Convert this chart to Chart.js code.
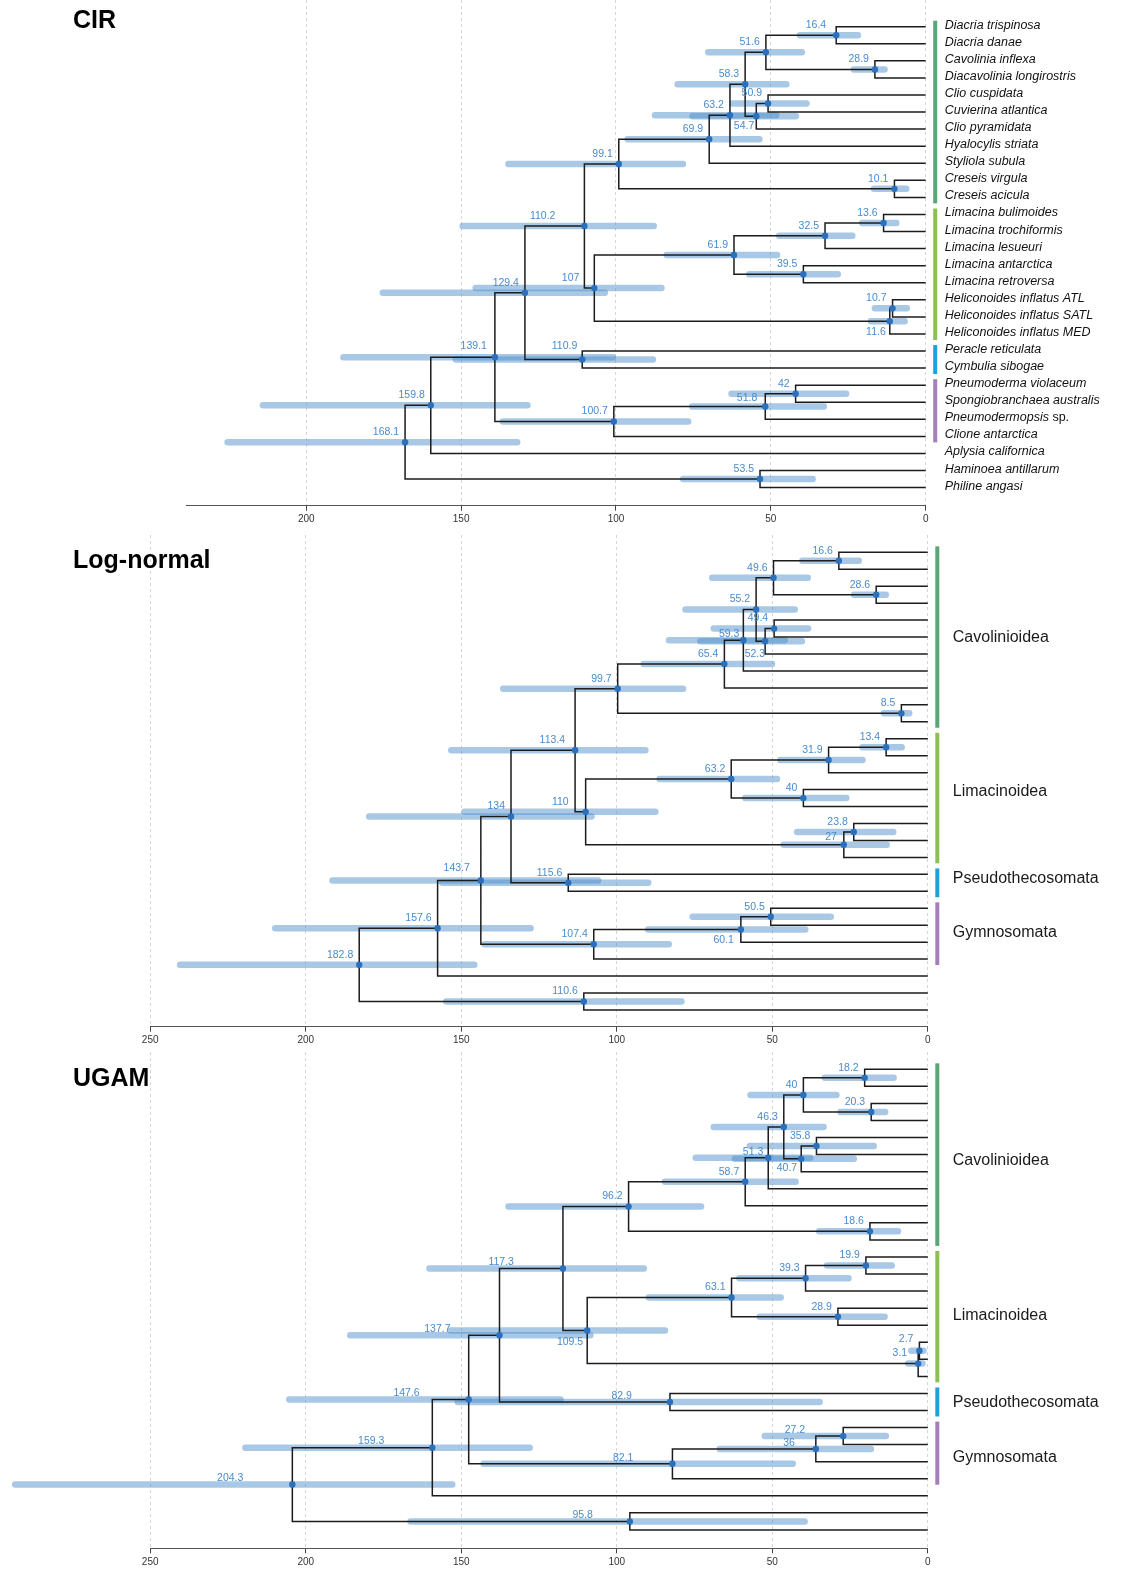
<!DOCTYPE html>
<html>
<head>
<meta charset="utf-8">
<script src="https://cdn.jsdelivr.net/npm/chart.js@4.4.1/dist/chart.umd.min.js"></script>
<style>
  html, body { margin: 0; padding: 0; background: #fff; }
  body { width: 1123px; height: 1569px; position: relative; overflow: hidden; }
  canvas { position: absolute; left: 0; display: block; }
</style>
</head>
<body>
<canvas id="cir" width="1123" height="530" style="top:0px"></canvas>
<canvas id="lognormal" width="1123" height="521" style="top:530px"></canvas>
<canvas id="ugam" width="1123" height="518" style="top:1051px"></canvas>
<script>
// tips, top to bottom (row index = position in this list)
const tips = [
  'Diacria trispinosa', 'Diacria danae', 'Cavolinia inflexa', 'Diacavolinia longirostris',
  'Clio cuspidata', 'Cuvierina atlantica', 'Clio pyramidata', 'Hyalocylis striata',
  'Styliola subula', 'Creseis virgula', 'Creseis acicula', 'Limacina bulimoides',
  'Limacina trochiformis', 'Limacina lesueuri', 'Limacina antarctica', 'Limacina retroversa',
  'Heliconoides inflatus ATL', 'Heliconoides inflatus SATL', 'Heliconoides inflatus MED',
  'Peracle reticulata', 'Cymbulia sibogae', 'Pneumoderma violaceum', 'Spongiobranchaea australis',
  'Pneumodermopsis sp.', 'Clione antarctica', 'Aplysia californica', 'Haminoea antillarum',
  'Philine angasi'
];

// clades shown as coloured bars at the right
const cladeNames = ['Cavolinioidea', 'Limacinoidea', 'Pseudothecosomata', 'Gymnosomata'];
const cladeFirst = [0, 11, 19, 21];
const cladeLast = [10, 18, 20, 24];
const cladeColors = ['#5ba676', '#8cc152', '#1da1dc', '#a57fbc'];

// topology: internal nodes, children are tip rows (numbers) or other nodes
const nodeIds = ['A', 'B', 'C', 'D', 'E', 'F', 'G', 'H', 'I', 'J', 'K', 'L', 'M', 'N',
  'O', 'P', 'Q', 'R', 'S', 'T', 'U', 'V', 'W', 'X', 'Y', 'Z', 'root'];
const childOne = [0, 2, 'A', 4, 'D', 'C', 'F', 'G', 9, 'H', 11, 'K', 14, 'L',
  16, 'O', 'N', 'J', 19, 'R', 21, 'U', 'V', 'T', 'X', 26, 'Y'];
const childTwo = [1, 3, 'B', 5, 6, 'E', 7, 8, 10, 'I', 12, 13, 15, 'M',
  17, 18, 'P', 'Q', 20, 'S', 22, 23, 24, 'W', 25, 27, 'Z'];

// node ages (Ma) and HPD interval, in nodeIds order
const cirAge = [28.9, 16.4, 51.6, 50.9, 54.7, 58.3, 63.2, 69.9, 10.1, 99.1, 13.6, 32.5, 39.5, 61.9,
  10.7, 11.6, 107, 110.2, 110.9, 129.4, 42, 51.8, 100.7, 139.1, 159.8, 53.5, 168.1];
const cirLow = [21.9, 13.3, 40.0, 38.5, 41.9, 45.0, 48.3, 53.7, 6.3, 78.4, 9.5, 23.7, 28.4, 48.0,
  6.1, 6.8, 85.3, 87.8, 88.1, 103.6, 25.7, 32.9, 76.7, 101, 128.6, 36.5, 131.9];
const cirHigh = [40.6, 23.2, 70.2, 62.4, 75.3, 80.1, 87.4, 96.2, 16.7, 134.7, 20.5, 47.3, 57.0, 83.6,
  16.4, 17.7, 145.3, 149.5, 151.7, 175.3, 62.7, 75.4, 136.5, 188, 214, 78.3, 225.4];

const lnAge = [28.6, 16.6, 49.6, 49.4, 52.3, 55.2, 59.3, 65.4, 8.5, 99.7, 13.4, 31.9, 40, 63.2,
  23.8, 27, 110, 113.4, 115.6, 134, 50.5, 60.1, 107.4, 143.7, 157.6, 110.6, 182.8];
const lnLow = [22.2, 13.5, 38.6, 38.5, 40.5, 42.8, 46.0, 50.1, 6.0, 78.7, 8.4, 21.0, 26.2, 48.5,
  11.1, 13.2, 87.6, 90.8, 89.9, 108.1, 31.2, 39.4, 83.3, 106, 127.7, 79.2, 145.8];
const lnHigh = [40.3, 23.7, 69.3, 68.8, 73.1, 77.9, 83.2, 91.3, 14.1, 136.5, 21.0, 47.4, 58.7, 86.2,
  42.0, 46.3, 148.9, 153.2, 156.1, 179.6, 75.6, 89.9, 142.5, 191.4, 209.8, 154.8, 240.4];

const ugamAge = [20.3, 18.2, 40, 35.8, 40.7, 46.3, 51.3, 58.7, 18.6, 96.2, 19.9, 39.3, 28.9, 63.1,
  2.7, 3.1, 109.5, 117.3, 82.9, 137.7, 27.2, 36, 82.1, 147.6, 159.3, 95.8, 204.3];
const ugamLow = [11.0, 13.7, 29.4, 17.4, 23.8, 33.5, 37.8, 42.5, 9.6, 72.9, 11.6, 25.5, 13.9, 47.3,
  1.4, 1.7, 84.5, 91.3, 34.8, 108.5, 13.5, 18.3, 43.4, 118.1, 128.0, 39.6, 152.9];
const ugamHigh = [33.1, 28.0, 57.0, 57.2, 62.0, 68.8, 74.6, 84.5, 34.9, 134.8, 32.4, 60.6, 54.0, 89.7,
  5.3, 6.3, 153.4, 160.2, 151.1, 185.7, 52.4, 66.9, 142.8, 205.3, 219.4, 166.3, 293.4];

// in the source figure the printed values of nodes A and B are exchanged
const labelFrom = { A: 'B', B: 'A' };

const tickValues = [250, 200, 150, 100, 50, 0];

const FONT = "'Liberation Sans', Arial, Helvetica, sans-serif";
Chart.defaults.font.family = FONT;

const HPD_COLOR = 'rgba(74,140,200,0.48)';
const DOT_COLOR = '#2a70bd';
const LABEL_COLOR = '#4a8bcb';

function buildPanel(cfg) {
  const age = cfg.age;
  const idx = {};
  nodeIds.forEach((id, i) => { idx[id] = i; });
  const yOf = {};
  const yAt = k => typeof k === 'number' ? k : yOf[k];
  const ageAt = k => typeof k === 'number' ? 0 : age[idx[k]];
  nodeIds.forEach((id, i) => { yOf[id] = (yAt(childOne[i]) + yAt(childTwo[i])) / 2; });

  // tree branches as step brackets
  const tree = [];
  nodeIds.forEach((id, i) => {
    const a = childOne[i], b = childTwo[i];
    tree.push({ x: ageAt(a), y: yAt(a) }, { x: age[i], y: yAt(a) },
      { x: age[i], y: yAt(b) }, { x: ageAt(b), y: yAt(b) }, { x: null, y: null });
  });

  const datasets = [];
  datasets.push({
    data: nodeIds.map((id, i) => ({ x: age[i], y: yOf[id] })),
    pointRadius: 3.2, pointBackgroundColor: DOT_COLOR, pointBorderWidth: 0,
    showLine: false, clip: false, order: 0
  });
  datasets.push({
    data: tree, showLine: true, borderColor: '#1c1c1c', borderWidth: 1.5,
    pointRadius: 0, spanGaps: false, clip: false, order: 1
  });
  nodeIds.forEach((id, i) => {
    datasets.push({
      data: [{ x: cfg.low[i], y: yOf[id] }, { x: cfg.high[i], y: yOf[id] }],
      showLine: true, borderColor: HPD_COLOR, borderWidth: 6.5, borderCapStyle: 'round',
      pointRadius: 0, clip: false, order: 2
    });
  });

  const yMin = -(cfg.rowTop - cfg.chartTop) / cfg.rowStep;
  const yMax = (cfg.axisY - cfg.rowTop) / cfg.rowStep;

  const textPlugin = {
    id: 'treeText_' + cfg.id,
    afterDatasetsDraw(chart) {
      const ctx = chart.ctx;
      const xs = chart.scales.x, ys = chart.scales.y;
      ctx.save();
      // node age labels
      ctx.font = '10.5px ' + FONT;
      ctx.fillStyle = LABEL_COLOR;
      ctx.textAlign = 'right';
      ctx.textBaseline = 'middle';
      nodeIds.forEach((id, i) => {
        const off = cfg.labelOffsets[id] || [-6, -10];
        const src = labelFrom[id] ? idx[labelFrom[id]] : i;
        const px = xs.getPixelForValue(age[i]) + off[0];
        const py = ys.getPixelForValue(yOf[id]) + off[1];
        ctx.fillText(String(age[src]), px, py);
      });
      ctx.restore();
    },
    afterDraw(chart) {
      const ctx = chart.ctx;
      const xs = chart.scales.x, ys = chart.scales.y;
      const x0 = xs.getPixelForValue(0);
      ctx.save();
      // title
      ctx.font = 'bold 25px ' + FONT;
      ctx.fillStyle = '#000';
      ctx.textAlign = 'left';
      ctx.textBaseline = 'middle';
      ctx.fillText(cfg.title, 73, cfg.titleY);
      // clade bars
      const step = ys.getPixelForValue(1) - ys.getPixelForValue(0);
      cladeNames.forEach((name, c) => {
        const top = ys.getPixelForValue(cladeFirst[c]) - 0.35 * step;
        const bot = ys.getPixelForValue(cladeLast[c]) + 0.35 * step;
        ctx.fillStyle = cladeColors[c];
        ctx.fillRect(x0 + 7.5, top, 4, bot - top);
        if (!cfg.tipLabels) {
          ctx.fillStyle = '#1a1a1a';
          ctx.font = '16px ' + FONT;
          ctx.textBaseline = 'middle';
          ctx.fillText(name, x0 + 25, (top + bot) / 2 + cfg.cladeDy[c]);
        }
      });
      // tip names
      if (cfg.tipLabels) {
        ctx.fillStyle = '#111';
        ctx.textBaseline = 'alphabetic';
        tips.forEach((t, r) => {
          const py = ys.getPixelForValue(r) + 2;
          let px = x0 + 19;
          let main = t, rest = '';
          if (t.endsWith(' sp.')) { main = t.slice(0, -4); rest = ' sp.'; }
          ctx.font = 'italic 12.5px ' + FONT;
          ctx.fillText(main, px, py);
          if (rest) {
            px += ctx.measureText(main).width;
            ctx.font = '12.5px ' + FONT;
            ctx.fillText(rest, px, py);
          }
        });
      }
      ctx.restore();
    }
  };

  return new Chart(document.getElementById(cfg.id), {
    type: 'scatter',
    data: { datasets },
    options: {
      responsive: false,
      animation: false,
      events: [],
      layout: {
        autoPadding: false,
        padding: { left: cfg.xLeft, right: 1123 - cfg.xRight, top: cfg.chartTop, bottom: 0 }
      },
      plugins: { legend: { display: false }, tooltip: { enabled: false } },
      scales: {
        x: {
          type: 'linear', reverse: true, min: 0, max: cfg.xMax, position: 'bottom',
          afterBuildTicks: s => { s.ticks = tickValues.filter(v => v <= s.max).map(v => ({ value: v })); },
          afterFit: s => { s.height = cfg.axisH; },
          ticks: { font: { size: 10 }, color: '#333', padding: 3, maxRotation: 0, autoSkip: false },
          grid: { color: '#d6d6d6', lineWidth: 1, drawTicks: true, tickLength: 5, tickColor: '#444', tickWidth: 1 },
          border: { display: true, color: '#555', width: 1, dash: [3, 3] }
        },
        y: { type: 'linear', reverse: true, min: yMin, max: yMax, display: false }
      }
    },
    plugins: [textPlugin]
  });
}

buildPanel({
  id: 'cir', title: 'CIR', titleY: 21, age: cirAge, low: cirLow, high: cirHigh, tipLabels: true,
  chartTop: 0, axisY: 505.7, axisH: 24.3, rowTop: 26.7, rowStep: 17.07,
  xLeft: 186.1, xRight: 925.7, xMax: 238.8, cladeDy: [0, 0, 0, 0],
  labelOffsets: { A: [-10, -10], E: [-2, 10], P: [-4, 11], Q: [-15, -10], R: [-29, -10],
    V: [-8, -8], S: [-5, -13], X: [-8, -11] }
});

buildPanel({
  id: 'lognormal', title: 'Log-normal', titleY: 31, age: lnAge, low: lnLow, high: lnHigh, tipLabels: false,
  chartTop: 5, axisY: 496.7, axisH: 24.3, rowTop: 22.3, rowStep: 16.95,
  xLeft: 150.2, xRight: 927.8, xMax: 250, cladeDy: [1, -6, -4, -1],
  labelOffsets: { E: [0, 13], V: [-7, 11], R: [-10, -10], Q: [-17, -10], G: [-4, -6],
    X: [-11, -12], P: [-7, -8] }
});

buildPanel({
  id: 'ugam', title: 'UGAM', titleY: 28, age: ugamAge, low: ugamLow, high: ugamHigh, tipLabels: false,
  chartTop: 1, axisY: 497.3, axisH: 20.7, rowTop: 18.3, rowStep: 17.06,
  xLeft: 150.2, xRight: 927.8, xMax: 250, cladeDy: [6, -1, 1, 4],
  labelOffsets: { E: [-4, 9], Q: [-4, 12], R: [-49, -6], T: [-49, -6], X: [-49, -6], S: [-38, -6],
    Y: [-48, -7], U: [-38, -6], V: [-21, -6], W: [-39, -6], root: [-49, -6], Z: [-37, -6],
    G: [-5, -6], P: [-11, -10], O: [-6, -12] }
});
</script>
</body>
</html>
